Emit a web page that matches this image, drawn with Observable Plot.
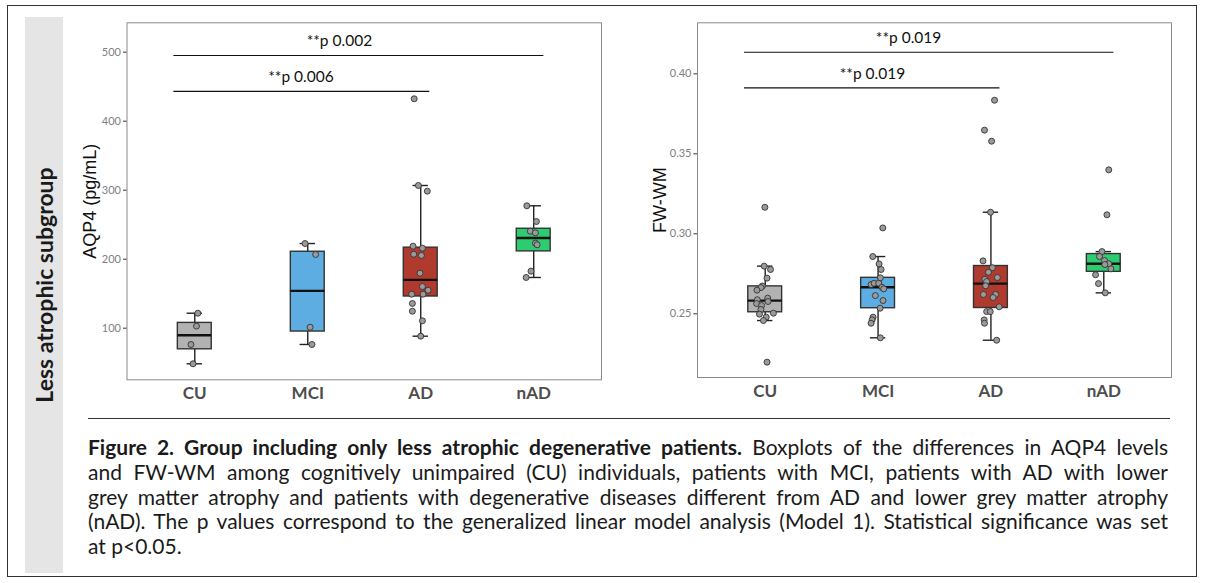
<!DOCTYPE html>
<html><head><meta charset="utf-8">
<script src="https://cdn.jsdelivr.net/npm/d3@7"></script>
<script src="https://cdn.jsdelivr.net/npm/@observablehq/plot@0.6"></script>
<style>
html,body{margin:0;padding:0;background:#fff;}
#page{position:relative;width:1205px;height:583px;overflow:hidden;font-family:Lato,"Noto Sans",sans-serif;}
#frame{position:absolute;left:7px;top:5px;width:1190px;height:572px;border:1px solid #333;box-sizing:border-box;}
#band{position:absolute;left:25px;top:17px;width:38px;height:556px;background:#e5e5e5;}
#bandtext{position:absolute;left:44px;top:285px;transform:translate(-50%,-50%) rotate(-90deg);font-weight:700;font-size:23px;white-space:nowrap;color:#1a1a1a;}
#left{position:absolute;left:60px;top:10px;}
#right{position:absolute;left:630px;top:10px;}
#rule{position:absolute;left:88px;top:418px;width:1082px;height:0;border-top:1px solid #333;}
#caption{position:absolute;left:88px;top:435px;width:1080px;font-size:21px;line-height:24.75px;color:#1a1a1a;}
.ln{white-space:nowrap;}
</style></head>
<body><div id="page">
<div id="frame"></div>
<div id="band"></div>
<div id="bandtext">Less atrophic subgroup</div>
<div id="left"></div>
<div id="right"></div>
<div id="rule"></div>
<div id="caption">
<div class="ln"><span><b>Figure 2. Group including only less atrophic degenerative patients.</b> Boxplots of the differences in AQP4 levels</span></div>
<div class="ln"><span>and FW-WM among cognitively unimpaired (CU) individuals, patients with MCI, patients with AD with lower</span></div>
<div class="ln"><span>grey matter atrophy and patients with degenerative diseases different from AD and lower grey matter atrophy</span></div>
<div class="ln"><span>(nAD). The p values correspond to the generalized linear model analysis (Model 1). Statistical significance was set</span></div>
<div class="ln last"><span>at p&lt;0.05.</span></div>
</div>
</div>
<script>
// ---------- data ----------
const groups = ["CU", "MCI", "AD", "nAD"];
const groupFill = ["#b2b2b2", "#5dade2", "#b03a2e", "#2ecc71"];

// AQP4 (pg/mL) per group, with horizontal jitter (in category units)
const aqpCU = [121.7, 103.0, 76.4, 48.4];
const aqpCUjit = [0.027, 0.015, -0.034, -0.015];
const aqpMCI = [222.7, 206.8, 101.4, 76.4];
const aqpMCIjit = [-0.024, 0.070, 0.021, 0.037];
const aqpAD = [432.5, 306.8, 298.6, 218.8, 216.0, 207.2, 205.4, 179.7, 160.4, 155.0, 149.3, 149.3, 135.8, 124.6, 110.7, 88.4];
const aqpADjit = [-0.058, -0.021, 0.058, -0.068, 0.015, -0.062, 0.006, -0.006, 0.015, 0.065, -0.080, 0.021, -0.074, -0.074, 0.015, 0.0];
const aqpNAD = [277.4, 254.6, 240.6, 238.2, 223.2, 220.9, 182.6, 173.5];
const aqpNADjit = [-0.061, 0.024, -0.030, 0.015, 0.015, 0.030, -0.024, -0.067];

// FW-WM per group
const fwCU = [0.3166, 0.2798, 0.2777, 0.2723, 0.2674, 0.2664, 0.2648, 0.2598, 0.2588, 0.2577, 0.2564, 0.2552, 0.2527, 0.2498, 0.2504, 0.2479, 0.2458, 0.2198];
const fwCUjit = [-0.003, -0.009, 0.047, 0.016, -0.025, -0.038, -0.073, 0.022, -0.070, 0.025, -0.076, -0.032, -0.038, -0.051, 0.073, 0.009, -0.016, 0.016];
const fwMCI = [0.3037, 0.2858, 0.2812, 0.2777, 0.2725, 0.2683, 0.2691, 0.2691, 0.2666, 0.2656, 0.2614, 0.2583, 0.2535, 0.2479, 0.2462, 0.2441, 0.2350];
const fwMCIjit = [0.042, -0.047, 0.009, 0.027, 0.020, -0.062, -0.035, 0.006, 0.035, 0.050, -0.024, 0.044, 0.018, -0.044, -0.053, -0.062, 0.020];
const fwAD = [0.3835, 0.3648, 0.3579, 0.3135, 0.2831, 0.2788, 0.2760, 0.2727, 0.2716, 0.2702, 0.2675, 0.2621, 0.2621, 0.2602, 0.2544, 0.2514, 0.2514, 0.2462, 0.2441, 0.2335];
const fwADjit = [0.032, -0.057, 0.006, -0.003, -0.070, 0.013, -0.022, 0.057, -0.054, -0.038, -0.047, -0.066, 0.041, 0.019, 0.073, -0.038, -0.006, -0.060, -0.057, 0.051];
const fwNAD = [0.3400, 0.3119, 0.2889, 0.2858, 0.2833, 0.2813, 0.2808, 0.2781, 0.2744, 0.2689, 0.2631];
const fwNADjit = [0.044, 0.028, -0.016, -0.038, 0.006, 0.044, 0.009, 0.063, -0.073, -0.047, 0.013];

// axis ticks
const aqpTicks = [100, 200, 300, 400, 500];
const fwTicks = [0.25, 0.30, 0.35, 0.40];

// significance annotations (data units)
const aqpSigLabel = ["**p 0.002", "**p 0.006"];
const aqpSigFrom = [0.815, 0.815];
const aqpSigTo = [4.09, 3.08];
const aqpSigLineY = [495.2, 443.2];
const aqpSigTextX = [2.28, 1.94];
const aqpSigTextY = [516, 464];

const fwSigLabel = ["**p 0.019", "**p 0.019"];
const fwSigFrom = [0.816, 0.816];
const fwSigTo = [4.09, 3.08];
const fwSigLineY = [0.4135, 0.3912];
const fwSigTextX = [2.27, 1.95];
const fwSigTextY = [0.4224, 0.4000];

// ---------- helpers ----------
function boxStats(values, i) {
  const s = values.slice().sort(d3.ascending);
  const q1 = d3.quantileSorted(s, 0.25), q2 = d3.quantileSorted(s, 0.5), q3 = d3.quantileSorted(s, 0.75);
  const iqr = q3 - q1;
  const lo = d3.min(s.filter(v => v >= q1 - 1.5 * iqr));
  const hi = d3.max(s.filter(v => v <= q3 + 1.5 * iqr));
  return {pos: i + 1, q1, q2, q3, lo, hi, fill: groupFill[i]};
}

function panel({vals, jits, yDomain, yTicks, yFmt, yLabel, sig, width, height, margins}) {
  const stats = vals.map((v, i) => boxStats(v, i));
  const pts = vals.flatMap((v, i) => v.map((y, j) => ({x: i + 1 + jits[i][j], y})));
  const sigIdx = d3.range(sig.label.length);
  const bw = 0.15, cw = 0.068;
  return Plot.plot({
    width, height, ...margins,
    x: {domain: [0.4, 4.6], axis: null},
    y: {domain: yDomain, axis: null},
    style: {fontFamily: "Lato, 'Noto Sans', sans-serif", background: "transparent", overflow: "visible"},
    marks: [
      Plot.frame({stroke: "#8a8a8a", strokeWidth: 1}),
      Plot.axisY(yTicks, {tickSize: 3.5, color: "#333", tickFormat: () => "", label: null}),
      Plot.axisY(yTicks, {tickSize: 0, tickPadding: 6, color: "#808080", fontSize: 11, tickFormat: yFmt, label: null}),
      Plot.axisX([1, 2, 3, 4], {tickSize: 0, tickPadding: 7, color: "#4d4d4d", fontSize: 17, fontWeight: "bold", tickFormat: d => groups[d - 1], label: null}),
      Plot.text([yLabel], {frameAnchor: "left", textAnchor: "middle", rotate: -90, dx: -37, fontSize: 18, fontFamily: "'Liberation Sans', Arial, sans-serif", fill: "#111"}),
      // whiskers
      Plot.ruleX(stats, {x: "pos", y1: "lo", y2: "hi", stroke: "#222", strokeWidth: 1.4}),
      Plot.ruleY(stats, {y: "lo", x1: d => d.pos - cw, x2: d => d.pos + cw, stroke: "#222", strokeWidth: 1.4}),
      Plot.ruleY(stats, {y: "hi", x1: d => d.pos - cw, x2: d => d.pos + cw, stroke: "#222", strokeWidth: 1.4}),
      // boxes
      Plot.rect(stats, {x1: d => d.pos - bw, x2: d => d.pos + bw, y1: "q1", y2: "q3", fill: "fill", stroke: "#333", strokeWidth: 1.4}),
      Plot.ruleY(stats, {y: "q2", x1: d => d.pos - bw, x2: d => d.pos + bw, stroke: "#111", strokeWidth: 2.4}),
      // jittered points
      Plot.dot(pts, {x: "x", y: "y", r: 3, fill: "#9a9a9a", stroke: "#333", strokeWidth: 0.9}),
      // significance
      Plot.ruleY(sigIdx, {y: i => sig.lineY[i], x1: i => sig.from[i], x2: i => sig.to[i], stroke: "#111", strokeWidth: 1.2}),
      Plot.text(sigIdx, {x: i => sig.textX[i], y: i => sig.textY[i], text: i => sig.label[i], fontSize: 15.5, fill: "#111"})
    ]
  });
}

document.getElementById("left").appendChild(panel({
  vals: [aqpCU, aqpMCI, aqpAD, aqpNAD],
  jits: [aqpCUjit, aqpMCIjit, aqpADjit, aqpNADjit],
  yDomain: [25.2, 542.6], yTicks: aqpTicks, yFmt: d3.format("d"), yLabel: "AQP4 (pg/mL)",
  sig: {label: aqpSigLabel, from: aqpSigFrom, to: aqpSigTo, lineY: aqpSigLineY, textX: aqpSigTextX, textY: aqpSigTextY},
  width: 560, height: 400,
  margins: {marginLeft: 66.5, marginRight: 19, marginTop: 12.3, marginBottom: 30.7}
}));

document.getElementById("right").appendChild(panel({
  vals: [fwCU, fwMCI, fwAD, fwNAD],
  jits: [fwCUjit, fwMCIjit, fwADjit, fwNADjit],
  yDomain: [0.2102, 0.4319], yTicks: fwTicks, yFmt: d3.format(".2f"), yLabel: "FW-WM",
  sig: {label: fwSigLabel, from: fwSigFrom, to: fwSigTo, lineY: fwSigLineY, textX: fwSigTextX, textY: fwSigTextY},
  width: 560, height: 400,
  margins: {marginLeft: 67, marginRight: 19, marginTop: 12.3, marginBottom: 33}
}));

// justify caption lines to the full width by measuring each line
const capWidth = 1080;
document.querySelectorAll("#caption .ln").forEach(ln => {
  if (ln.classList.contains("last")) return;
  const span = ln.querySelector("span");
  const w = span.getBoundingClientRect().width;
  const spaces = (span.textContent.match(/ /g) || []).length;
  if (w < capWidth && spaces) span.style.wordSpacing = ((capWidth - w) / spaces) + "px";
  else if (w > capWidth) span.style.letterSpacing = ((capWidth - w) / span.textContent.length) + "px";
});
</script>
</body></html>
